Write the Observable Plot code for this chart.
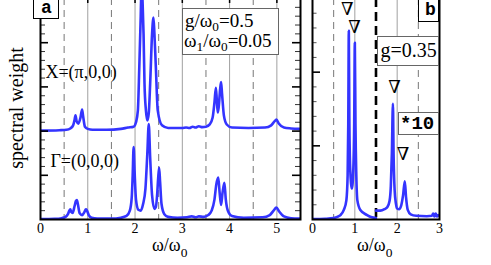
<!DOCTYPE html>
<html><head><meta charset="utf-8">
<script src="https://cdn.jsdelivr.net/npm/d3@7"></script>
<script src="https://cdn.jsdelivr.net/npm/@observablehq/plot@0.6"></script>
<style>
html,body{margin:0;padding:0;background:#fff;}
#wrap{position:relative;width:491px;height:265px;overflow:hidden;background:#fff;font-family:"Liberation Serif",serif;color:#000;}
#wrap svg{position:absolute;}
.t{position:absolute;white-space:nowrap;line-height:1;}
.box{position:absolute;box-sizing:border-box;background:#fff;}
</style></head><body><div id="wrap"></div>
<script>
// ---- data ----
// panel a, Γ=(0,0,0) spectrum
const gammaW = [0,0.3,0.45,0.53,0.58,0.61,0.63,0.65,0.68,0.72,0.75,0.77,0.79,0.83,0.88,0.93,0.96,0.98,1.02,1.08,1.2,1.5,1.7,1.82,1.89,1.93,1.95,1.97,1.99,2.02,2.07,2.12,2.17,2.22,2.26,2.29,2.32,2.36,2.41,2.44,2.47,2.49,2.51,2.53,2.56,2.62,2.7,2.9,3.1,3.2,3.28,3.35,3.45,3.55,3.62,3.68,3.72,3.76,3.79,3.82,3.85,3.89,3.92,3.97,4.05,4.3,4.7,4.85,4.93,4.99,5.05,5.15,5.3,5.5];
const gammaA = [0.01,0.015,0.03,0.06,0.12,0.2,0.23,0.17,0.15,0.3,0.42,0.44,0.35,0.14,0.1,0.17,0.23,0.21,0.1,0.04,0.02,0.02,0.04,0.08,0.2,0.5,1.0,1.64,1.1,0.45,0.22,0.2,0.35,0.7,1.5,2.16,1.4,0.55,0.24,0.28,0.6,0.95,1.17,0.85,0.35,0.12,0.06,0.04,0.05,0.07,0.05,0.07,0.06,0.1,0.2,0.45,0.8,0.95,0.6,0.33,0.6,0.83,0.45,0.18,0.08,0.04,0.05,0.1,0.2,0.27,0.18,0.07,0.03,0.02];
// panel a, X=(π,0,0) spectrum (drawn shifted up by xOffset)
const xpiW = [0,0.4,0.55,0.63,0.69,0.72,0.74,0.765,0.8,0.845,0.88,0.9,0.94,1.0,1.1,1.4,1.7,1.85,1.97,2.02,2.06,2.09,2.12,2.14,2.16,2.18,2.2,2.23,2.26,2.29,2.32,2.36,2.39,2.41,2.44,2.48,2.57,2.7,2.85,3.0,3.08,3.15,3.22,3.28,3.35,3.42,3.5,3.58,3.64,3.68,3.71,3.73,3.75,3.77,3.8,3.82,3.84,3.88,3.94,4.05,4.4,4.75,4.88,4.95,4.99,5.04,5.15,5.3,5.5];
const xpiA = [0.01,0.02,0.03,0.06,0.13,0.25,0.36,0.22,0.17,0.3,0.49,0.35,0.1,0.05,0.03,0.03,0.05,0.08,0.1,0.2,0.47,1.45,2.6,3.4,2.9,2.2,1.08,0.47,0.24,0.4,1.08,2.2,2.57,2.2,1.45,0.47,0.13,0.07,0.07,0.07,0.08,0.07,0.1,0.08,0.11,0.09,0.1,0.15,0.3,0.65,0.98,0.7,0.42,0.55,0.95,1.11,0.85,0.35,0.15,0.08,0.07,0.08,0.13,0.22,0.26,0.17,0.08,0.06,0.05];
const xOffset = 2;
// panel b, g=0.35 spectrum: below ω=1.5 and (×10) above
const bLowW = [0,0.3,0.5,0.6,0.66,0.74,0.8,0.83,0.845,0.858,0.87,0.89,0.93,0.965,0.985,1.0,1.015,1.035,1.06,1.13,1.29,1.4,1.5];
const bLowA = [0.005,0.01,0.02,0.04,0.06,0.13,0.26,0.6,1.3,2.56,1.4,0.7,0.42,0.7,1.3,2.4,1.3,0.6,0.26,0.13,0.06,0.03,0.02];
const bHighW = [1.5,1.6,1.7,1.77,1.82,1.85,1.875,1.9,1.915,1.94,1.97,2.0,2.05,2.1,2.14,2.18,2.21,2.25,2.32,2.45,2.7,2.82,2.85,2.88,2.91,2.94,2.97,3.0];
const bHighA = [0.12,0.12,0.14,0.17,0.25,0.45,0.9,1.57,0.9,0.4,0.22,0.15,0.14,0.2,0.33,0.52,0.3,0.13,0.07,0.05,0.045,0.05,0.08,0.04,0.08,0.04,0.06,0.05];
// peak markers in panel b
const triW = [0.82,0.99,1.94,2.14];
const triA = [2.85,2.61,1.80,0.89];
// curve labels in panel a
const labelText = ["X=(π,0,0)","Γ=(0,0,0)"];
const labelW = [0.105,0.21];
const labelA = [3.33,1.31];
// ticks and grid
const xTicksA = [0,1,2,3,4,5];
const xTicksB = [0,1,2,3];
const gridSolidA = [1,2,3,4,5];
const gridDashA = [0.5,1.5,2.5,3.5,4.5];
const gridSolidB = [1,2];
const gridDashB = [0.5,2.5];
const cutB = [1.5];
const yMajorA = [1,2,3,4];
const yMinorA = [0.2,0.4,0.6,0.8,1.2,1.4,1.6,1.8,2.2,2.4,2.6,2.8,3.2,3.4,3.6,3.8,4.2,4.4,4.6,4.8];
const yMajorB = [1,2];
const yMinorB = [0.2,0.4,0.6,0.8,1.2,1.4,1.6,1.8,2.2,2.4,2.6,2.8];

const zip = (w, a) => w.map((x, i) => ({x, y: a[i]}));
const gamma = zip(gammaW, gammaA);
const xpi = zip(xpiW, xpiA);
const bLow = zip(bLowW, bLowA);
const bHigh = zip(bHighW, bHighA);
const tris = zip(triW, triA);
const labels = labelText.map((t, i) => ({t, x: labelW[i], y: labelA[i]}));

const BLUE = "#3434ff";
const SERIF = '"Liberation Serif", "DejaVu Serif", serif';
const H = 267, MT = 0, MB = 46, PH = H - MT - MB;
const style = {fontFamily: SERIF, fontSize: "14px", background: "transparent", color: "#000", overflow: "hidden"};

// ---- panel a ----
const WA = 310, MLA = 40, MRA = 10, PWA = WA - MLA - MRA;
const plotA = Plot.plot({
  width: WA, height: H, marginLeft: MLA, marginRight: MRA, marginTop: MT, marginBottom: MB,
  x: {domain: [0, 5.5], label: null},
  y: {domain: [0, 5], axis: null},
  style,
  marks: [
    Plot.ruleX(gridSolidA, {stroke: "#a0a0a0", strokeWidth: 1}),
    Plot.ruleX(gridDashA, {stroke: "#777", strokeWidth: 1, strokeDasharray: "7,5"}),
    Plot.line(gamma, {x: "x", y: "y", stroke: BLUE, strokeWidth: 2.6, curve: "monotone-x", clip: true}),
    Plot.line(xpi, {x: "x", y: d => d.y + xOffset, stroke: BLUE, strokeWidth: 2.6, curve: "monotone-x", clip: true}),
    Plot.text(labels, {x: "x", y: "y", text: "t", textAnchor: "start", lineAnchor: "middle", fontSize: 18, fontFamily: SERIF, fill: "#000"}),
    Plot.ruleY(yMinorA, {stroke: "#333", strokeWidth: 1, insetRight: PWA - 5}),
    Plot.ruleY(yMajorA, {stroke: "#000", strokeWidth: 1.6, insetRight: PWA - 8}),
    Plot.ruleY(yMinorA, {stroke: "#333", strokeWidth: 1, insetLeft: PWA - 5}),
    Plot.ruleY(yMajorA, {stroke: "#000", strokeWidth: 1.6, insetLeft: PWA - 8}),
    Plot.ruleX(gridSolidA, {stroke: "#000", strokeWidth: 1.5, insetBottom: PH - 5}),
    Plot.frame({stroke: "#000", strokeWidth: 2}),
    Plot.axisX(xTicksA, {tickSize: 0, tickPadding: 4, fontSize: 14, fontFamily: SERIF, label: null})
  ]
});
plotA.style.left = "0px"; plotA.style.top = "-2px";

// ---- panel b ----
const WB = 201, MLB = 22, MRB = 52, PWB = WB - MLB - MRB;
const plotB = Plot.plot({
  width: WB, height: H, marginLeft: MLB, marginRight: MRB, marginTop: MT, marginBottom: MB,
  x: {domain: [0, 3], label: null},
  y: {domain: [0, 3], axis: null},
  style,
  marks: [
    Plot.ruleX(gridSolidB, {stroke: "#a0a0a0", strokeWidth: 1}),
    Plot.ruleX(gridDashB, {stroke: "#777", strokeWidth: 1, strokeDasharray: "7,5"}),
    Plot.ruleX(cutB, {stroke: "#000", strokeWidth: 2.6, strokeDasharray: "9,5"}),
    Plot.line(bLow, {x: "x", y: "y", stroke: BLUE, strokeWidth: 2.6, curve: "monotone-x", clip: true}),
    Plot.line(bHigh, {x: "x", y: "y", stroke: BLUE, strokeWidth: 2.6, curve: "monotone-x", clip: true}),
    Plot.text(tris, {x: "x", y: "y", text: () => "∇", textAnchor: "middle", lineAnchor: "middle", fontSize: 18, fontFamily: SERIF, fill: "#000"}),
    Plot.ruleY(yMinorB, {stroke: "#555", strokeWidth: 1, insetRight: PWB - 4.5}),
    Plot.ruleY(yMajorB, {stroke: "#000", strokeWidth: 1.6, insetRight: PWB - 8}),
    Plot.frame({stroke: "#000", strokeWidth: 2}),
    Plot.axisX(xTicksB, {tickSize: 0, tickPadding: 4, fontSize: 14, fontFamily: SERIF, label: null})
  ]
});
plotB.style.left = "290px"; plotB.style.top = "-2px";

const wrap = document.getElementById("wrap");
wrap.appendChild(plotB);
wrap.appendChild(plotA);

// ---- text and boxes ----
function box(left, top, w, h, border) {
  const d = document.createElement("div");
  d.className = "box";
  d.style.cssText = `left:${left}px;top:${top}px;width:${w}px;height:${h}px;border:${border};`;
  wrap.appendChild(d);
}
function txt(html, left, baseline, size, opts = {}) {
  const d = document.createElement("div");
  d.className = "t";
  const fam = opts.mono ? '"Liberation Mono", monospace' : SERIF;
  const k = opts.mono ? 0.7665 : 0.8375;
  d.style.cssText = `left:${left}px;top:${baseline - k * size}px;font-size:${size}px;font-family:${fam};font-weight:${opts.bold ? "bold" : "normal"};` + (opts.center ? "transform:translateX(-50%);" : "");
  d.innerHTML = html;
  wrap.appendChild(d);
}
const sub = (s, k = 0.7, dy = 0.3) => `<span style="font-size:${k}em;position:relative;top:${dy}em">${s}</span>`;

// y label
const yl = document.createElement("div");
yl.className = "t";
yl.style.cssText = `left:${16.3 - 80}px;top:${108 - 11}px;width:160px;height:22px;line-height:22px;text-align:center;font-size:20px;font-family:${SERIF};transform:rotate(-90deg);`;
yl.textContent = "spectral weight";
wrap.appendChild(yl);

// x labels
txt("ω/ω" + sub("0", 0.75, 0.45), 152, 251, 18);
txt("ω/ω" + sub("0", 0.75, 0.45), 357, 251, 18);

// panel tags
box(33, -3, 26, 22, "1.5px solid #000");
txt("a", 46.5, 12.5, 18, {mono: true, bold: true, center: true});
box(418, -3, 21, 25, "1.5px solid #000");
txt("b", 430.5, 14.5, 18, {mono: true, bold: true, center: true});

// parameter legend in a
box(182, 8, 97, 47, "1px solid #666");
txt("g/ω" + sub("0") + "=0.5", 185, 26.7, 19);
txt("ω" + sub("1") + "/ω" + sub("0") + "=0.05", 184, 46.7, 19);

// panel b annotations
box(377, 36, 62, 30, "1px solid #666");
txt("g=0.35", 380.5, 56.7, 20);
box(398, 112, 41, 23, "1px solid #666");
txt("*10", 400, 130, 19, {mono: true, bold: true});
</script></body></html>
